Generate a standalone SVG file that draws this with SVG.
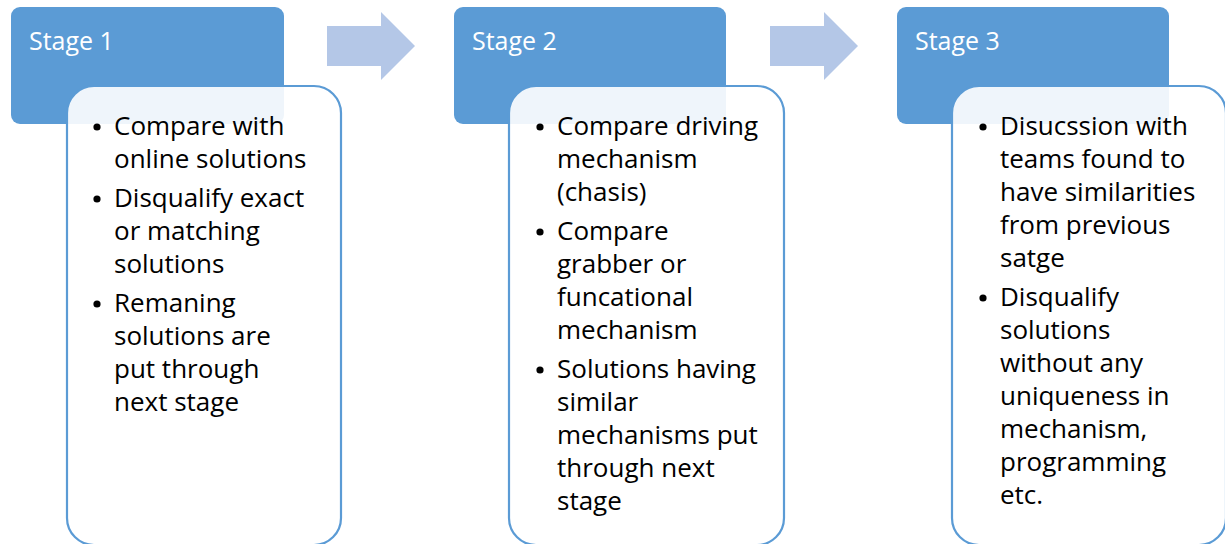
<svg xmlns="http://www.w3.org/2000/svg" width="1225" height="544" viewBox="0 0 1225 544">
<style>
.hdr{fill:#5B9BD5}
.body{fill:#FFFFFF;fill-opacity:0.9;stroke:#5B9BD5;stroke-width:2.2}
.arr{fill:#B4C7E7}
.dot{fill:#000}
.t{font-family:"Open Sans","Liberation Sans",sans-serif;font-size:26px;fill:#000}
.h{font-family:"Open Sans","Liberation Sans",sans-serif;font-size:25px;fill:#FFFFFF}
</style>
<rect width="1225" height="544" fill="#FFFFFF"/>
<g id="connectors">
<polygon class="arr" points="327,26 381,26 381,12 415,46 381,80 381,66 327,66"/>
<polygon class="arr" points="770,26 824,26 824,12 858,46 824,80 824,66 770,66"/>
</g>
<g id="stage1">
<rect class="hdr" x="11" y="7" width="273" height="117" rx="9"/>
<text class="h" x="29" y="50">Stage 1</text>
<rect class="body" x="67" y="86" width="274" height="459" rx="27"/>
<circle class="dot" cx="97" cy="127" r="3.6"/>
<circle class="dot" cx="97" cy="199" r="3.6"/>
<circle class="dot" cx="97" cy="304" r="3.6"/>
<g class="t">
<text x="114" y="135">Compare with</text>
<text x="114" y="168">online solutions</text>
<text x="114" y="207">Disqualify exact</text>
<text x="114" y="240">or matching</text>
<text x="114" y="273">solutions</text>
<text x="114" y="312">Remaning</text>
<text x="114" y="345">solutions are</text>
<text x="114" y="378">put through</text>
<text x="114" y="411">next stage</text>
</g>
</g>
<g id="stage2">
<rect class="hdr" x="454" y="7" width="272" height="117" rx="9"/>
<text class="h" x="472" y="50">Stage 2</text>
<rect class="body" x="509" y="86" width="275" height="459" rx="27"/>
<circle class="dot" cx="540" cy="127" r="3.6"/>
<circle class="dot" cx="540" cy="232" r="3.6"/>
<circle class="dot" cx="540" cy="370" r="3.6"/>
<g class="t">
<text x="557" y="135">Compare driving</text>
<text x="557" y="168">mechanism</text>
<text x="557" y="201">(chasis)</text>
<text x="557" y="240">Compare</text>
<text x="557" y="273">grabber or</text>
<text x="557" y="306">funcational</text>
<text x="557" y="339">mechanism</text>
<text x="557" y="378">Solutions having</text>
<text x="557" y="411">similar</text>
<text x="557" y="444">mechanisms put</text>
<text x="557" y="477">through next</text>
<text x="557" y="510">stage</text>
</g>
</g>
<g id="stage3">
<rect class="hdr" x="897" y="7" width="272" height="117" rx="9"/>
<text class="h" x="915" y="50">Stage 3</text>
<rect class="body" x="952" y="86" width="274" height="459" rx="27"/>
<circle class="dot" cx="983" cy="127" r="3.6"/>
<circle class="dot" cx="983" cy="298" r="3.6"/>
<g class="t">
<text x="1000" y="135">Disucssion with</text>
<text x="1000" y="168">teams found to</text>
<text x="1000" y="201">have similarities</text>
<text x="1000" y="234">from previous</text>
<text x="1000" y="267">satge</text>
<text x="1000" y="306">Disqualify</text>
<text x="1000" y="339">solutions</text>
<text x="1000" y="372">without any</text>
<text x="1000" y="405">uniqueness in</text>
<text x="1000" y="438">mechanism,</text>
<text x="1000" y="471">programming</text>
<text x="1000" y="504">etc.</text>
</g>
</g>
</svg>
